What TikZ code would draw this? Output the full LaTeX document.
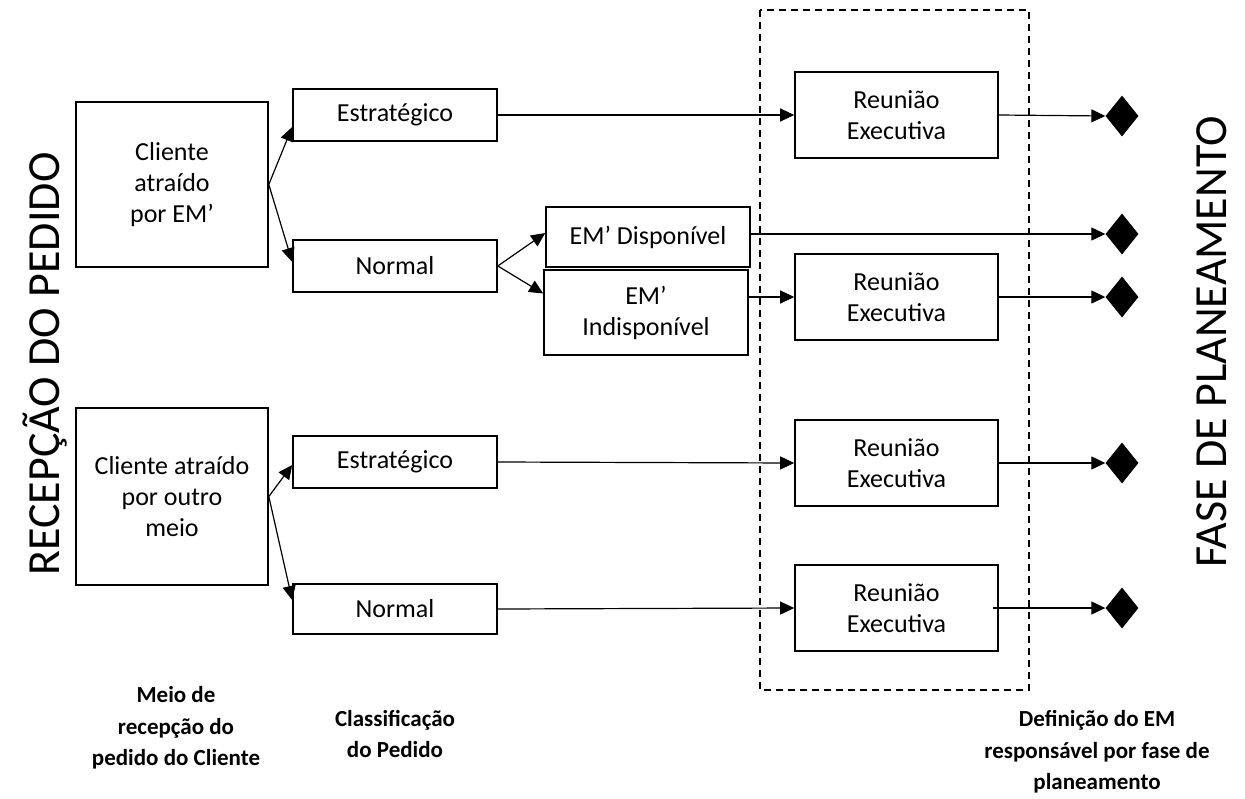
\documentclass[tikz,border=0pt]{standalone}
\usepackage{fontspec}
\setmainfont{Carlito}
\usetikzlibrary{shapes.geometric,arrows.meta,calc}
\begin{document}
\begin{tikzpicture}[x=1pt,y=-1pt,
  box/.style={draw,line width=1.6pt,align=center,inner sep=0pt,
    font=\fontsize{26}{31}\selectfont},
  lbl/.style={align=center,font=\fontsize{23}{31.5}\selectfont\bfseries},
  side/.style={rotate=90,font=\fontsize{46}{50}\selectfont},
  arr/.style={line width=1.2pt,-{Triangle[length=14pt,width=13pt]}},
  gem/.style={diamond,fill=black,inner sep=0pt,minimum width=33pt,minimum height=41pt}]
\useasboundingbox (0,0) rectangle (1245,798);

% group holding the executive meetings
\draw[line width=1.5pt,dash pattern=on 7pt off 5pt] (760,10) rectangle (1029,690);

% client reception
\node[box,minimum width=192pt,minimum height=165pt] (c1) at (172,184.5) {Cliente\\atraído\\por EM’};
\node[box,minimum width=192pt,minimum height=177pt] (c2) at (172,496.5) {Cliente atraído\\por outro\\meio};

% order classification
\node[box,minimum width=204pt,minimum height=52pt] (e1) at (395,115) {Estratégico};
\node[box,minimum width=204pt,minimum height=52pt] (n1) at (395,266) {Normal};
\node[box,minimum width=204pt,minimum height=52pt] (e2) at (395,462) {Estratégico};
\node[box,minimum width=204pt,minimum height=50pt] (n2) at (395,609) {Normal};

% availability
\node[box,minimum width=204pt,minimum height=60pt] (d) at (648,237) {EM’ Disponível};
\node[box,minimum width=204pt,minimum height=85pt] (u) at (646,312.5) {EM’\\Indisponível};

% executive meetings
\node[box,minimum width=203pt,minimum height=86pt] (r1) at (896.5,115) {Reunião\\Executiva};
\node[box,minimum width=203pt,minimum height=86pt] (r2) at (896.5,297) {Reunião\\Executiva};
\node[box,minimum width=203pt,minimum height=86pt] (r3) at (896.5,463) {Reunião\\Executiva};
\node[box,minimum width=203pt,minimum height=86pt] (r4) at (896.5,608) {Reunião\\Executiva};

% planning phase markers
\node[gem] (k1) at (1122,116) {};
\node[gem] (k2) at (1122,234) {};
\node[gem] (k3) at (1122,297) {};
\node[gem] (k4) at (1122,463) {};
\node[gem] (k5) at (1122,608) {};

% connectors
\draw[arr] (c1.east) -- ($(e1.west)+(0,12)$);
\draw[arr] (c1.east) -- ($(n1.west)+(0,-4)$);
\draw[arr] (c2.east) -- ($(e2.west)+(0,3)$);
\draw[arr] (c2.east) -- ($(n2.west)+(0,-9)$);
\draw[arr] (n1.east) -- ($(d.west)+(0,-4)$);
\draw[arr] (n1.east) -- ($(u.west)+(0,-19)$);
\draw[arr] (e1.east) -- (r1.west);
\draw[arr] (u.east |- r2.west) -- (r2.west);
\draw[arr] (e2.east) -- (r3.west);
\draw[arr] (n2.east) -- (r4.west);
\draw[arr] (r1.east) -- (k1.west);
\draw[arr] (d.east |- k2.west) -- (k2.west);
\draw[arr] (r2.east) -- (k3.west);
\draw[arr] (r3.east) -- (k4.west);
\draw[arr] ($(r4.east)+(-6,0)$) -- (k5.west);

% side titles
\node[side] (ts) at (45,364) {RECEPÇÃO DO PEDIDO};
\node[side] (tf) at (1212,342) {FASE DE PLANEAMENTO};

% column captions
\node[lbl] (l1) at (176,728) {Meio de\\recepção do\\pedido do Cliente};
\node[lbl] (l2) at (395,734) {Classificação\\do Pedido};
\node[lbl] (l3) at (1097,752) {Definição do EM\\responsável por fase de\\planeamento};
\end{tikzpicture}
\end{document}
